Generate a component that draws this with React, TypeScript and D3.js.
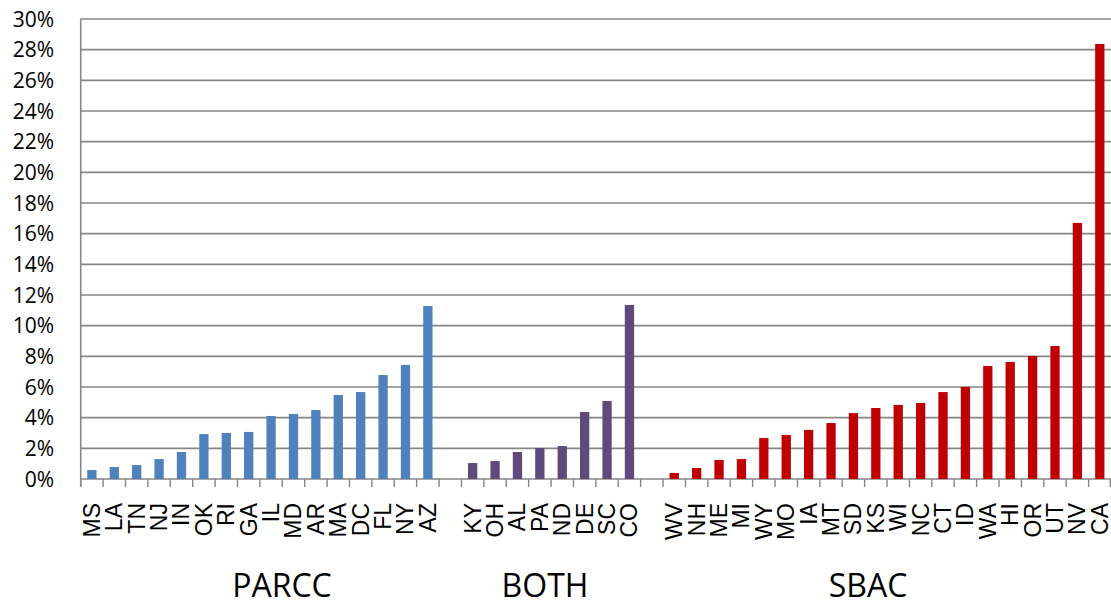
import React from "react";
import * as d3 from "d3";

const parccStates = ["MS","LA","TN","NJ","IN","OK","RI","GA","IL","MD","AR","MA","DC","FL","NY","AZ"];
const parccValues = [0.59,0.78,0.91,1.3,1.76,2.93,3.0,3.07,4.11,4.24,4.5,5.48,5.67,6.78,7.44,11.28];
const bothStates = ["KY","OH","AL","PA","ND","DE","SC","CO"];
const bothValues = [1.04,1.17,1.76,2.02,2.15,4.37,5.09,11.35];
const sbacStates = ["WV","NH","ME","MI","WY","MO","IA","MT","SD","KS","WI","NC","CT","ID","WA","HI","OR","UT","NV","CA"];
const sbacValues = [0.39,0.72,1.24,1.3,2.67,2.87,3.2,3.65,4.3,4.63,4.83,4.96,5.67,6.0,7.37,7.63,8.02,8.67,16.7,28.37];
const groupNames = ["PARCC","BOTH","SBAC"];
const yTicks = [0,2,4,6,8,10,12,14,16,18,20,22,24,26,28,30];

const groupColors = ["#4F81BD", "#604A7B", "#C00000"];

type Item = { key: string; label: string; value: number | null; group: number };

const groups = [
  { states: parccStates, values: parccValues },
  { states: bothStates, values: bothValues },
  { states: sbacStates, values: sbacValues },
];

const items: Item[] = [];
groups.forEach((g, gi) => {
  if (gi > 0) items.push({ key: "gap" + gi, label: "", value: null, group: -1 });
  g.states.forEach((s, i) => items.push({ key: s, label: s, value: g.values[i], group: gi }));
});

const W = 1111, H = 604;
const left = 80.7, right = 1111, top = 19, bottom = 479;

export default function App() {
  const x = d3.scaleBand<string>().domain(items.map(d => d.key)).range([left, right]).paddingInner(0).paddingOuter(0);
  const y = d3.scaleLinear().domain([0, 30]).range([bottom, top]);
  const bw = x.bandwidth();
  const barW = bw * 0.415;
  const grid = "#868686";
  const groupLabelX = [282, 545, 868];

  return (
    <svg width={W} height={H} style={{ position: "fixed", left: 0, top: 0, background: "#fff" }}>
      {yTicks.map(t => (
        <line key={"g" + t} x1={left} x2={right} y1={y(t)} y2={y(t)} stroke={grid} strokeWidth={1.6} />
      ))}
      <line x1={left} x2={left} y1={top} y2={bottom + 8} stroke={grid} strokeWidth={1.6} />
      {items.map((d, i) => (
        <line key={"t" + i} x1={x(d.key)!} x2={x(d.key)!} y1={bottom} y2={bottom + 8} stroke={grid} strokeWidth={1.4} />
      ))}
      <line x1={right - 0.7} x2={right - 0.7} y1={bottom} y2={bottom + 8} stroke={grid} strokeWidth={1.4} />
      {items.filter(d => d.value !== null).map(d => (
        <rect key={"b" + d.key}
          x={x(d.key)! + (bw - barW) / 2}
          y={y(d.value as number)}
          width={barW}
          height={bottom - y(d.value as number)}
          fill={groupColors[d.group]} />
      ))}
      {yTicks.map(t => (
        <text key={"yl" + t} x={54} y={y(t)} dy="0.36em" textAnchor="end"
          style={{ fontFamily: "'Open Sans', sans-serif", fontSize: 21, fill: "#000" }}>
          {t + "%"}
        </text>
      ))}
      {items.filter(d => d.value !== null).map(d => {
        const cx = x(d.key)! + bw / 2;
        return (
          <text key={"xl" + d.key} transform={`translate(${cx + 8},503) rotate(-90)`} textAnchor="end"
            style={{ fontFamily: "'Liberation Sans', Arial, sans-serif", fontSize: 23, fill: "#000" }}>
            {d.label}
          </text>
        );
      })}
      {groupNames.map((g, i) => (
        <text key={"gl" + g} x={groupLabelX[i]} y={597} textAnchor="middle"
          style={{ fontFamily: "'Open Sans', sans-serif", fontSize: 32, fill: "#000" }}>
          {g}
        </text>
      ))}
    </svg>
  );
}
